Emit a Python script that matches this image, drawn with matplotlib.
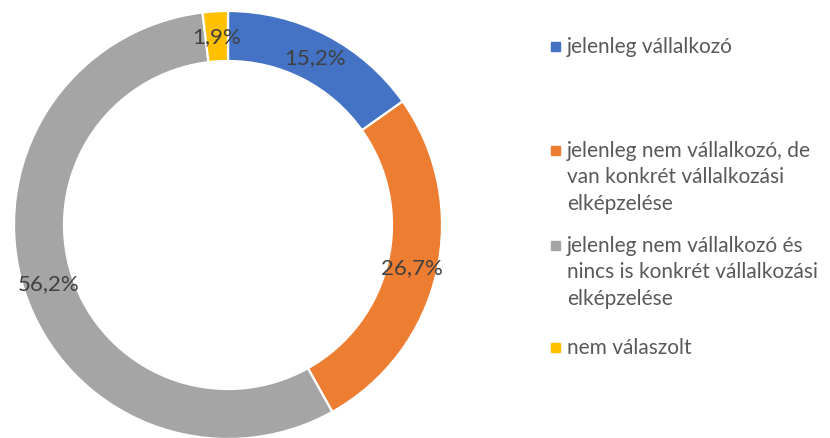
import matplotlib
matplotlib.use("Agg")
import matplotlib.pyplot as plt

categories = [
    "jelenleg vállalkozó",
    "jelenleg nem vállalkozó, de\nvan konkrét vállalkozási\nelképzelése",
    "jelenleg nem vállalkozó és\nnincs is konkrét vállalkozási\nelképzelése",
    "nem válaszolt",
]
shares = [15.2, 26.7, 56.2, 1.9]
colors = ["#4472C4", "#ED7D31", "#A5A5A5", "#FFC000"]

plt.rcParams["font.family"] = ["Lato", "DejaVu Sans"]

W, H = 830, 439
fig = plt.figure(figsize=(W / 100, H / 100), dpi=100)

# donut: centre (228, 226) px, outer radius 214 px
cx, cy, r = 228, 226, 214
ax = fig.add_axes([(cx - r) / W, (H - cy - r) / H, 2 * r / W, 2 * r / H])

ring = 50 / r
wedges, _, autotexts = ax.pie(
    shares, colors=colors, startangle=90, counterclock=False, radius=1,
    wedgeprops=dict(width=ring, edgecolor="white", linewidth=1.6),
    autopct=lambda p: f"{p:.1f}".replace(".", ",") + "%",
    pctdistance=1 - ring / 2,
    textprops=dict(color="#404040", fontsize=16),
)
ax.set_xlim(-1, 1)
ax.set_ylim(-1, 1)
ax.axis("off")

# legend as plain text with square markers; y = baseline of first line (px from top)
base_y = [53, 157, 252, 354]
line_gap = 26.5
for lab, col, y in zip(categories, colors, base_y):
    fig.patches.append(plt.Rectangle((551 / W, (H - y + 1.5) / H), 9 / W, 9 / H,
                                     transform=fig.transFigure, color=col))
    for i, line in enumerate(lab.split("\n")):
        fig.text(567 / W, (H - y - i * line_gap) / H, line, ha="left",
                 va="baseline", color="#595959", fontsize=15,
                 transform=fig.transFigure)

fig.savefig("out.png", dpi=100)
